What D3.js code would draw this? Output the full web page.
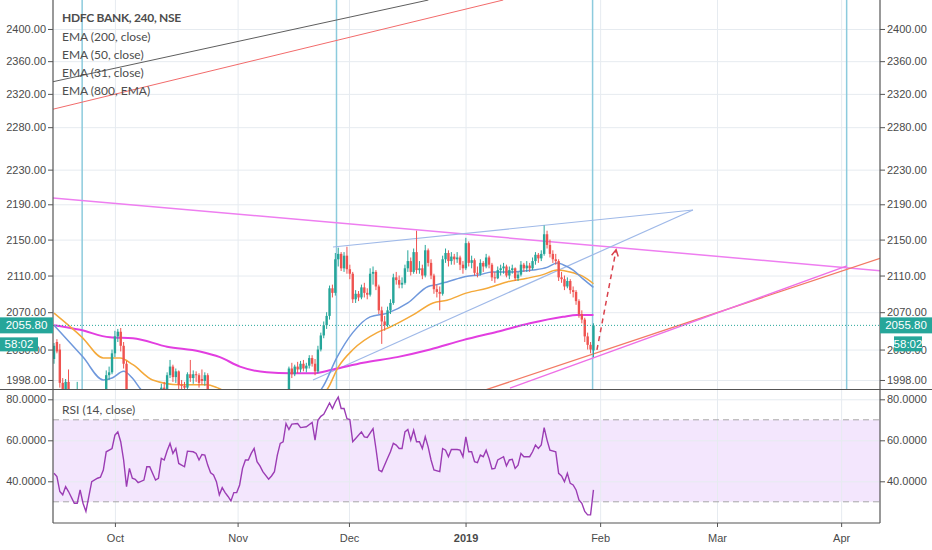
<!DOCTYPE html>
<html>
<head>
<meta charset="utf-8">
<script src="https://cdn.jsdelivr.net/npm/d3@7"></script>
<style>
  body { margin: 0; background: #fff; }
  svg { display: block; font-family: "Liberation Sans", Arial, sans-serif; }
  .axisLbl text { font-size: 11px; fill: #4a4a4a; }
  .legend { font-family: Lato, "Open Sans", sans-serif; font-size: 12px; fill: #4d4d4d; }
</style>
</head>
<body>
<svg id="chart" width="932" height="550"></svg>
<script>
// ---- data ----
let monthLabels = ["Oct", "Nov", "Dec", "2019", "Feb", "Mar", "Apr"];
let monthBars = [21, 63.3, 101.7, 141.9, 188.3, 228.6, 271.4];
let priceTicks = [2400, 2360, 2320, 2280, 2230, 2190, 2150, 2110, 2070, 2030, 1998];
let rsiTicks = [80, 60, 40];
let rsiBand = [30, 70];
let lastPrice = 2055.80;
let countdown = "58:02";
let legendTitle = "HDFC BANK, 240, NSE";
let legendItems = ["EMA (200, close)", "EMA (50, close)", "EMA (31, close)", "EMA (800, EMA)"];

// 240 min candles, [open, high, low, close], one per bar
let ohlc = [
  [2020,2037,2015,2034],[2038,2041,2026,2028],[2030,2036,1990,1995],[1995,2000,1978,1985],[1985,1999,1980,1996],
  [1996,2009,1970,1975],[1975,1980,1960,1965],[1965,1970,1945,1950],[1950,1996,1946,1962],[1962,1975,1955,1968],
  [1968,1970,1944,1948],[1948,1952,1928,1935],[1935,1950,1930,1945],[1945,1964,1940,1960],[1960,1968,1954,1962],
  [1962,1970,1958,1966],[1966,1972,1960,1968],[1968,1984,1965,1978],[1978,2008,1975,2003],[2003,2012,1998,2006],
  [2006,2030,2004,2026],[2026,2050,2022,2044],[2044,2052,2038,2049],[2049,2053,2028,2034],[2034,2038,2010,2015],
  [2015,2018,1945,1950],[1950,1976,1946,1972],[1972,1975,1958,1962],[1962,1968,1955,1960],[1960,1964,1950,1957],
  [1957,1962,1952,1958],[1958,1966,1954,1960],[1960,1980,1958,1975],[1975,1982,1968,1975],[1975,1977,1958,1962],
  [1962,1966,1954,1958],[1958,1965,1952,1960],[1960,1994,1958,1990],[1990,1996,1980,1988],[1988,2006,1985,2003],
  [2003,2019,2000,2012],[2012,2014,1996,2001],[2001,2010,1995,2007],[2007,2008,1988,1993],[1993,1998,1985,1992],
  [1992,1996,1984,1990],[1990,2006,1988,2004],[2004,2019,1996,2000],[2000,2008,1994,2004],[2004,2007,1996,2003],
  [2003,2005,1990,1995],[1999,2009,1993,1997],[1997,2006,1992,2003],[2003,2005,1980,1985],[1985,1988,1960,1965],
  [1965,1970,1950,1955],[1955,1958,1936,1940],[1940,1944,1910,1915],[1915,1930,1908,1925],[1925,1928,1906,1912],
  [1912,1916,1900,1905],[1905,1908,1885,1895],[1895,1914,1890,1910],[1910,1915,1902,1908],[1908,1922,1904,1918],
  [1918,1940,1915,1935],[1935,1950,1930,1945],[1945,1950,1938,1944],[1944,1956,1940,1952],[1952,1966,1948,1960],
  [1960,1962,1946,1950],[1950,1954,1942,1946],[1946,1950,1936,1940],[1940,1944,1934,1938],[1938,1940,1928,1932],
  [1932,1940,1930,1936],[1936,1946,1934,1942],[1942,1958,1940,1955],[1955,1970,1952,1966],[1966,1972,1960,1968],
  [1968,1986,1965,1983],[1983,2012,1980,2010],[2010,2016,2000,2004],[2004,2014,2002,2012],[2012,2017,2005,2009],
  [2009,2018,2006,2015],[2015,2019,2007,2010],[2010,2016,2006,2013],[2013,2024,2010,2021],[2021,2024,2012,2015],
  [2015,2020,2003,2007],[2007,2034,2005,2030],[2030,2048,2028,2045],[2045,2060,2042,2056],[2056,2070,2052,2066],
  [2066,2099,2062,2096],[2096,2100,2086,2091],[2091,2135,2088,2128],[2128,2141,2120,2134],[2134,2136,2115,2118],
  [2118,2136,2114,2132],[2132,2142,2112,2117],[2117,2122,2106,2112],[2112,2114,2080,2084],[2084,2094,2080,2090],
  [2090,2093,2082,2086],[2086,2100,2084,2097],[2097,2102,2086,2091],[2091,2096,2084,2089],[2089,2118,2087,2112],
  [2112,2120,2100,2114],[2114,2116,2094,2098],[2098,2100,2068,2072],[2072,2076,2036,2060],[2060,2066,2050,2056],
  [2056,2076,2054,2072],[2072,2084,2068,2080],[2080,2112,2078,2108],[2108,2114,2100,2105],[2105,2110,2096,2100],
  [2100,2108,2096,2102],[2102,2122,2100,2118],[2118,2138,2114,2126],[2126,2130,2110,2114],[2114,2140,2112,2136],
  [2136,2160,2112,2116],[2116,2126,2112,2118],[2118,2122,2106,2110],[2110,2144,2108,2138],[2138,2140,2120,2124],
  [2124,2128,2106,2110],[2110,2112,2090,2095],[2095,2100,2086,2092],[2092,2098,2072,2090],[2090,2132,2088,2128],
  [2128,2140,2124,2135],[2135,2138,2120,2126],[2126,2136,2122,2131],[2131,2134,2122,2128],[2128,2136,2124,2130],
  [2130,2132,2116,2122],[2122,2126,2112,2118],[2118,2152,2116,2146],[2146,2148,2120,2124],[2124,2132,2118,2127],
  [2127,2129,2110,2113],[2113,2120,2108,2112],[2112,2128,2110,2124],[2124,2126,2114,2120],[2120,2134,2118,2130],
  [2130,2132,2118,2122],[2122,2124,2104,2108],[2108,2114,2102,2107],[2107,2120,2106,2116],[2116,2122,2110,2118],
  [2118,2124,2112,2120],[2120,2122,2108,2110],[2110,2120,2106,2116],[2116,2122,2112,2118],[2118,2119,2104,2107],
  [2107,2114,2104,2111],[2111,2126,2109,2122],[2122,2124,2114,2118],[2118,2126,2114,2121],[2121,2124,2114,2118],
  [2118,2130,2116,2126],[2126,2136,2122,2133],[2133,2135,2124,2129],[2129,2138,2126,2134],[2134,2166,2132,2156],
  [2156,2160,2140,2144],[2144,2150,2130,2134],[2134,2138,2124,2128],[2128,2134,2122,2126],[2126,2128,2104,2108],
  [2108,2114,2102,2106],[2106,2110,2094,2098],[2098,2108,2096,2104],[2104,2106,2090,2094],[2094,2098,2086,2092],
  [2092,2094,2078,2082],[2082,2084,2064,2068],[2068,2072,2058,2062],[2062,2064,2038,2044],[2044,2048,2030,2035],
  [2035,2038,2026,2030],[2029,2058,2022,2055.8]
];

// moving averages, [bar, price]
let emaFast = [[0,2056],[10,2022],[17,1998],[20,2000],[24,2007],[27,2000],[30,1988],[36,1978],[45,1982],[53,1984],
  [60,1962],[68,1950],[76,1952],[84,1966],[90,1982],[92.3,1989],[97.6,2022],[103,2048],[109,2065],[115,2069],
  [122,2080],[129,2098],[132,2100],[135.5,2103],[142,2109],[147,2111],[151,2114],[158,2114],[165,2116],[170,2119],
  [173.5,2124],[175.5,2122],[179,2116],[182.5,2106],[186,2097]];
let emaMid = [[0,2069],[9.7,2043],[17,2021],[22.8,2021],[27.2,2014],[34,1998],[43.4,1993],[52.8,1993],[56.2,1990],
  [64,1978],[72,1970],[80,1970],[88,1978],[94.1,1988],[97.9,2011],[103.1,2030],[111.4,2048],[115.9,2054],[123.8,2067],
  [130.7,2080],[135.5,2083],[142.4,2091],[149.3,2096],[156.2,2103],[163.1,2107],[168.6,2111],[173.4,2116],[177.9,2114],
  [182.4,2109],[186,2101]];
let emaSlow = [[0,2056],[9,2051],[19.3,2043],[27.2,2042],[39,2033],[50.3,2028],[57.2,2022],[64.1,2012],[73.4,2006],
  [81.4,2005],[89.3,2005],[96.2,2009],[106.6,2016],[118.3,2022],[129.7,2030],[141,2040],[152.8,2049],[164.1,2058],
  [175.5,2065],[180.3,2067],[186,2067]];

// RSI (14, close), [bar, value]
let rsi = [[0,43.9],[1,42.3],[2,35],[3,33.4],[4,37.4],[5,35],[7,29.3],[8,29.3],[9,35.8],[10,29.3],[11,25.3],[13,39.8],
  [15,41.5],[16,42],[17,45.5],[18,54.4],[20,56],[21,62.5],[22,64.1],[23,59.3],[24,50.4],[25,37.4],[26,46.3],[27,41.5],
  [28,41],[29,39.4],[31,40.6],[32,47.1],[33,47.1],[35,40.6],[36,41.5],[37,51.2],[38,50.4],[39,54.9],[40,58.5],[41,53.6],
  [42,56],[43,48.7],[44,47.9],[45,47.1],[46,54.7],[48,54.4],[49,53.6],[50,50.4],[51,53.1],[52,52.8],[53,47.9],[54,44.2],
  [55,43.1],[56,39.8],[57,33.4],[58,36.9],[59,34.5],[60,32.6],[61,30.4],[62,34.5],[63,34.5],[64,38.2],[65,46.3],[66,50.4],
  [67,50.4],[68,53.6],[69,56],[70,49.6],[71,47.5],[72,44.7],[74,41],[75,42.6],[76,44.7],[77,52.8],[78,58.5],[79,59.3],
  [80,68.2],[81,65.3],[82,67.9],[84,68.2],[85,66.2],[87,66.6],[89,68.7],[90,60.1],[91,69.8],[92,71.7],[93,72.7],[95,78.2],
  [96,75.5],[97,78.7],[98,81.1],[99,75.5],[100,75.5],[101,70.6],[102,70.1],[103,59.3],[104,60.9],[106,64.1],[107,61.7],
  [108,61.4],[110,65.7],[111,56],[112,45.5],[113,44.7],[115,51.2],[116,54.4],[117,58.5],[118,57.7],[119,56],[120,56],
  [121,64.1],[122,65.3],[123,60.1],[124,64.9],[125,59.3],[126,59.3],[127,56],[128,61.7],[129,56.8],[130,50.4],[131,45.5],
  [133,44.7],[134,56],[135,55.2],[136,52],[137,55.5],[139,55.5],[140,55.2],[141,52],[142,61.7],[143,54.4],[144,54.4],
  [145,49.6],[146,49.1],[147,52.8],[148,52],[149,55.2],[150,51.2],[151,46],[152,46.3],[153,50.4],[155,52],[156,47.5],
  [157,50.4],[158,50.7],[159,46.3],[160,47.9],[161,53.6],[162,52],[164,52],[165,54.4],[166,57.7],[167,56],[168,57.7],
  [169,66.2],[170,60.1],[171,55.2],[173,54.4],[174,43.9],[175,42.6],[176,39.8],[177,43.9],[178,39],[179,38.2],[180,35.8],
  [181,30.9],[182,29.3],[183,25.3],[184,23.6],[185,23.6],[186,35.8]];

// drawings on the chart, [bar, price] end points
let greyTrend = [[-0.35, 2334.8], [129.1, 2436.6]];
let redTrend = [[-0.35, 2301.5], [154.9, 2436.6]];
let resistance = [[-0.35, 2197.3], [284.8, 2115.4]];
let wedgeUpper = [[96.2, 2141.7], [220.3, 2183.5]];
let wedgeLower = [[89.3, 1998], [220.3, 2183.5]];
let supportOrange = [[146.9, 1985.8], [284.8, 2129.1]];
let supportPink = [[157.2, 1989.5], [273.4, 2120.6]];
let projection = [[187.2, 2029.6], [193.8, 2138.5]];
let markerBars = [9.7, 97.4, 185.7, 273.3];

// ---- layout ----
let chartLeft = 53, chartRight = 880;
let mainBottom = 389, rsiTop = 390, rsiBottom = 523;
let upColor = "#26a69a", downColor = "#ef5350";

let svg = d3.select("#chart");

let xScale = d3.scaleLinear().domain([-0.35, 284.8]).range([chartLeft, chartRight]);
let yScale = d3.scaleLog().domain([1988.6, 2436.6]).range([mainBottom, 0]);
let rScale = d3.scaleLinear().domain([19.66, 84.54]).range([rsiBottom, rsiTop]);

let defs = svg.append("defs");
defs.append("clipPath").attr("id", "clipMain")
    .append("rect").attr("x", chartLeft).attr("y", 0)
    .attr("width", chartRight - chartLeft).attr("height", mainBottom);
defs.append("clipPath").attr("id", "clipRsi")
    .append("rect").attr("x", chartLeft).attr("y", rsiTop)
    .attr("width", chartRight - chartLeft).attr("height", rsiBottom - rsiTop);

// RSI band (under grid)
svg.append("rect")
   .attr("x", chartLeft).attr("width", chartRight - chartLeft)
   .attr("y", rScale(rsiBand[1])).attr("height", rScale(rsiBand[0]) - rScale(rsiBand[1]))
   .attr("fill", "#f3e6fd");

// grid lines
let grid = svg.append("g");
grid.append("g").attr("transform", "translate(" + chartLeft + ",0)")
    .call(d3.axisLeft(yScale).tickValues(priceTicks).tickSize(-(chartRight - chartLeft)).tickFormat(""));
grid.append("g").attr("transform", "translate(" + chartLeft + ",0)")
    .call(d3.axisLeft(rScale).tickValues(rsiTicks).tickSize(-(chartRight - chartLeft)).tickFormat(""));
grid.append("g").attr("transform", "translate(0," + mainBottom + ")")
    .call(d3.axisBottom(xScale).tickValues(monthBars).tickSize(-mainBottom).tickFormat(""));
grid.append("g").attr("transform", "translate(0," + rsiBottom + ")")
    .call(d3.axisBottom(xScale).tickValues(monthBars).tickSize(-(rsiBottom - rsiTop)).tickFormat(""));
grid.selectAll(".domain").remove();
grid.selectAll("line").attr("stroke", "#e6ebf0").attr("stroke-width", 1);

// RSI 30 / 70 dashes
svg.append("g").selectAll("line").data(rsiBand).join("line")
   .attr("x1", chartLeft).attr("x2", chartRight)
   .attr("y1", d => rScale(d)).attr("y2", d => rScale(d))
   .attr("stroke", "#a7a7a7").attr("stroke-dasharray", "6,4");

// ---- main pane ----
let main = svg.append("g").attr("clip-path", "url(#clipMain)");

// vertical markers
main.selectAll(".marker").data(markerBars).join("line")
    .attr("class", "marker")
    .attr("x1", d => xScale(d)).attr("x2", d => xScale(d))
    .attr("y1", 0).attr("y2", mainBottom)
    .attr("stroke", "#8ccbdd").attr("stroke-width", 1.5);

function segment(pts, color, width) {
  return main.append("line")
    .attr("x1", xScale(pts[0][0])).attr("y1", yScale(pts[0][1]))
    .attr("x2", xScale(pts[1][0])).attr("y2", yScale(pts[1][1]))
    .attr("stroke", color).attr("stroke-width", width);
}
segment(greyTrend, "#5e5e5e", 1);
segment(redTrend, "#f26b6b", 1);
segment(resistance, "#ee7ef0", 1.5);
segment(wedgeUpper, "#9fb9e8", 1.2);
segment(wedgeLower, "#9fb9e8", 1.2);
segment(supportOrange, "#f27a64", 1.3);
segment(supportPink, "#ee6fe6", 1.3);

// moving averages
let emaLine = d3.line().x(d => xScale(d[0])).y(d => yScale(d[1])).curve(d3.curveMonotoneX);
main.append("path").datum(emaSlow).attr("d", emaLine)
    .attr("fill", "none").attr("stroke", "#e23ee0").attr("stroke-width", 2);
main.append("path").datum(emaMid).attr("d", emaLine)
    .attr("fill", "none").attr("stroke", "#f4a93a").attr("stroke-width", 1.5);
main.append("path").datum(emaFast).attr("d", emaLine)
    .attr("fill", "none").attr("stroke", "#6f98dc").attr("stroke-width", 1.5);

// candles
let candleW = 2.4;
let candles = main.append("g");
candles.selectAll("line").data(ohlc).join("line")
    .attr("x1", (d, i) => xScale(i)).attr("x2", (d, i) => xScale(i))
    .attr("y1", d => yScale(d[1])).attr("y2", d => yScale(d[2]))
    .attr("stroke", d => d[3] >= d[0] ? upColor : downColor).attr("stroke-width", 1);
candles.selectAll("rect").data(ohlc).join("rect")
    .attr("x", (d, i) => xScale(i) - candleW / 2)
    .attr("width", candleW)
    .attr("y", d => yScale(Math.max(d[0], d[3])))
    .attr("height", d => Math.max(1, Math.abs(yScale(d[0]) - yScale(d[3]))))
    .attr("fill", d => d[3] >= d[0] ? upColor : downColor);

// projected move
let p0 = [xScale(projection[0][0]), yScale(projection[0][1])];
let p1 = [xScale(projection[1][0]), yScale(projection[1][1])];
main.append("line")
    .attr("x1", p0[0]).attr("y1", p0[1]).attr("x2", p1[0]).attr("y2", p1[1])
    .attr("stroke", "#d9414c").attr("stroke-width", 1.5).attr("stroke-dasharray", "5,4");
let ang = Math.atan2(p1[1] - p0[1], p1[0] - p0[0]);
let headPath = d3.path();
headPath.moveTo(p1[0] + 7 * Math.cos(ang + Math.PI - 0.5), p1[1] + 7 * Math.sin(ang + Math.PI - 0.5));
headPath.lineTo(p1[0], p1[1]);
headPath.lineTo(p1[0] + 7 * Math.cos(ang + Math.PI + 0.5), p1[1] + 7 * Math.sin(ang + Math.PI + 0.5));
main.append("path").attr("d", headPath.toString())
    .attr("fill", "none").attr("stroke", "#d9414c").attr("stroke-width", 1.5);

// last price line
svg.append("line")
   .attr("x1", chartLeft).attr("x2", chartRight)
   .attr("y1", yScale(lastPrice)).attr("y2", yScale(lastPrice))
   .attr("stroke", upColor).attr("stroke-dasharray", "1,2");

// ---- RSI pane ----
let rsiG = svg.append("g").attr("clip-path", "url(#clipRsi)");
rsiG.append("path").datum(rsi)
    .attr("d", d3.line().x(d => xScale(d[0])).y(d => rScale(d[1])))
    .attr("fill", "none").attr("stroke", "#9b3cb4").attr("stroke-width", 1.4);

// ---- axes ----
let fmtPrice = d3.format(".2f");
let fmtRsi = d3.format(".4f");

function styleAxis(g) {
  g.select(".domain").remove();
  g.selectAll("line").attr("stroke", "#555");
  g.attr("class", "axisLbl");
}
svg.append("g").attr("transform", "translate(" + chartLeft + ",0)")
   .call(d3.axisLeft(yScale).tickValues(priceTicks).tickFormat(fmtPrice).tickSize(5).tickPadding(2))
   .call(styleAxis);
svg.append("g").attr("transform", "translate(" + chartRight + ",0)")
   .call(d3.axisRight(yScale).tickValues(priceTicks).tickFormat(fmtPrice).tickSize(5).tickPadding(2))
   .call(styleAxis);
svg.append("g").attr("transform", "translate(" + chartLeft + ",0)")
   .call(d3.axisLeft(rScale).tickValues(rsiTicks).tickFormat(fmtRsi).tickSize(5).tickPadding(2))
   .call(styleAxis);
svg.append("g").attr("transform", "translate(" + chartRight + ",0)")
   .call(d3.axisRight(rScale).tickValues(rsiTicks).tickFormat(fmtRsi).tickSize(5).tickPadding(2))
   .call(styleAxis);
let xAxisG = svg.append("g").attr("transform", "translate(0," + rsiBottom + ")")
   .call(d3.axisBottom(xScale).tickValues(monthBars).tickFormat((d, i) => monthLabels[i]).tickSize(4).tickPadding(7))
   .call(styleAxis);
xAxisG.selectAll("text").attr("font-weight", (d, i) => monthLabels[i] === "2019" ? "bold" : null);

// frame lines
let frame = svg.append("g").attr("stroke", "#555").attr("stroke-width", 1.2);
frame.append("line").attr("x1", chartLeft).attr("x2", chartLeft).attr("y1", 0).attr("y2", rsiBottom);
frame.append("line").attr("x1", chartRight).attr("x2", chartRight).attr("y1", 0).attr("y2", rsiBottom);
frame.append("line").attr("x1", 0).attr("x2", 932).attr("y1", mainBottom + 0.5).attr("y2", mainBottom + 0.5);
frame.append("line").attr("x1", chartLeft).attr("x2", chartRight).attr("y1", rsiBottom).attr("y2", rsiBottom);

// price badges (they sit over the 2030.00 labels, as in the source)
let py = yScale(lastPrice);
let badges = svg.append("g");
badges.append("rect").attr("x", 0).attr("y", py - 8).attr("width", chartLeft).attr("height", 16).attr("fill", upColor);
badges.append("rect").attr("x", chartRight).attr("y", py - 8).attr("width", 932 - chartRight).attr("height", 16).attr("fill", upColor);
badges.append("rect").attr("x", 0).attr("y", py + 12).attr("width", 38).attr("height", 14).attr("fill", upColor);
badges.append("rect").attr("x", chartRight + 14).attr("y", py + 11).attr("width", 28).attr("height", 15).attr("fill", upColor);
badges.append("text").attr("x", chartLeft / 2).attr("y", py + 4).attr("text-anchor", "middle")
      .attr("font-size", 11.5).attr("fill", "#fff").text(fmtPrice(lastPrice));
badges.append("text").attr("x", (chartRight + 932) / 2).attr("y", py + 4).attr("text-anchor", "middle")
      .attr("font-size", 11.5).attr("fill", "#fff").text(fmtPrice(lastPrice));
badges.append("text").attr("x", 19).attr("y", py + 23).attr("text-anchor", "middle")
      .attr("font-size", 11.5).attr("fill", "#fff").text(countdown);
badges.append("text").attr("x", chartRight + 28).attr("y", py + 23).attr("text-anchor", "middle")
      .attr("font-size", 11.5).attr("fill", "#fff").text(countdown);

// legends
let legend = svg.append("g").attr("class", "legend");
legend.append("text").attr("x", 62).attr("y", 22).attr("font-weight", "bold")
      .attr("letter-spacing", "-0.3").text(legendTitle);
legend.selectAll(".item").data(legendItems).join("text")
      .attr("class", "item").attr("x", 62).attr("y", (d, i) => 40.5 + i * 18.2).text(d => d);
svg.append("text").attr("class", "legend").attr("x", 62).attr("y", 414).text("RSI (14, close)");
</script>
</body>
</html>
